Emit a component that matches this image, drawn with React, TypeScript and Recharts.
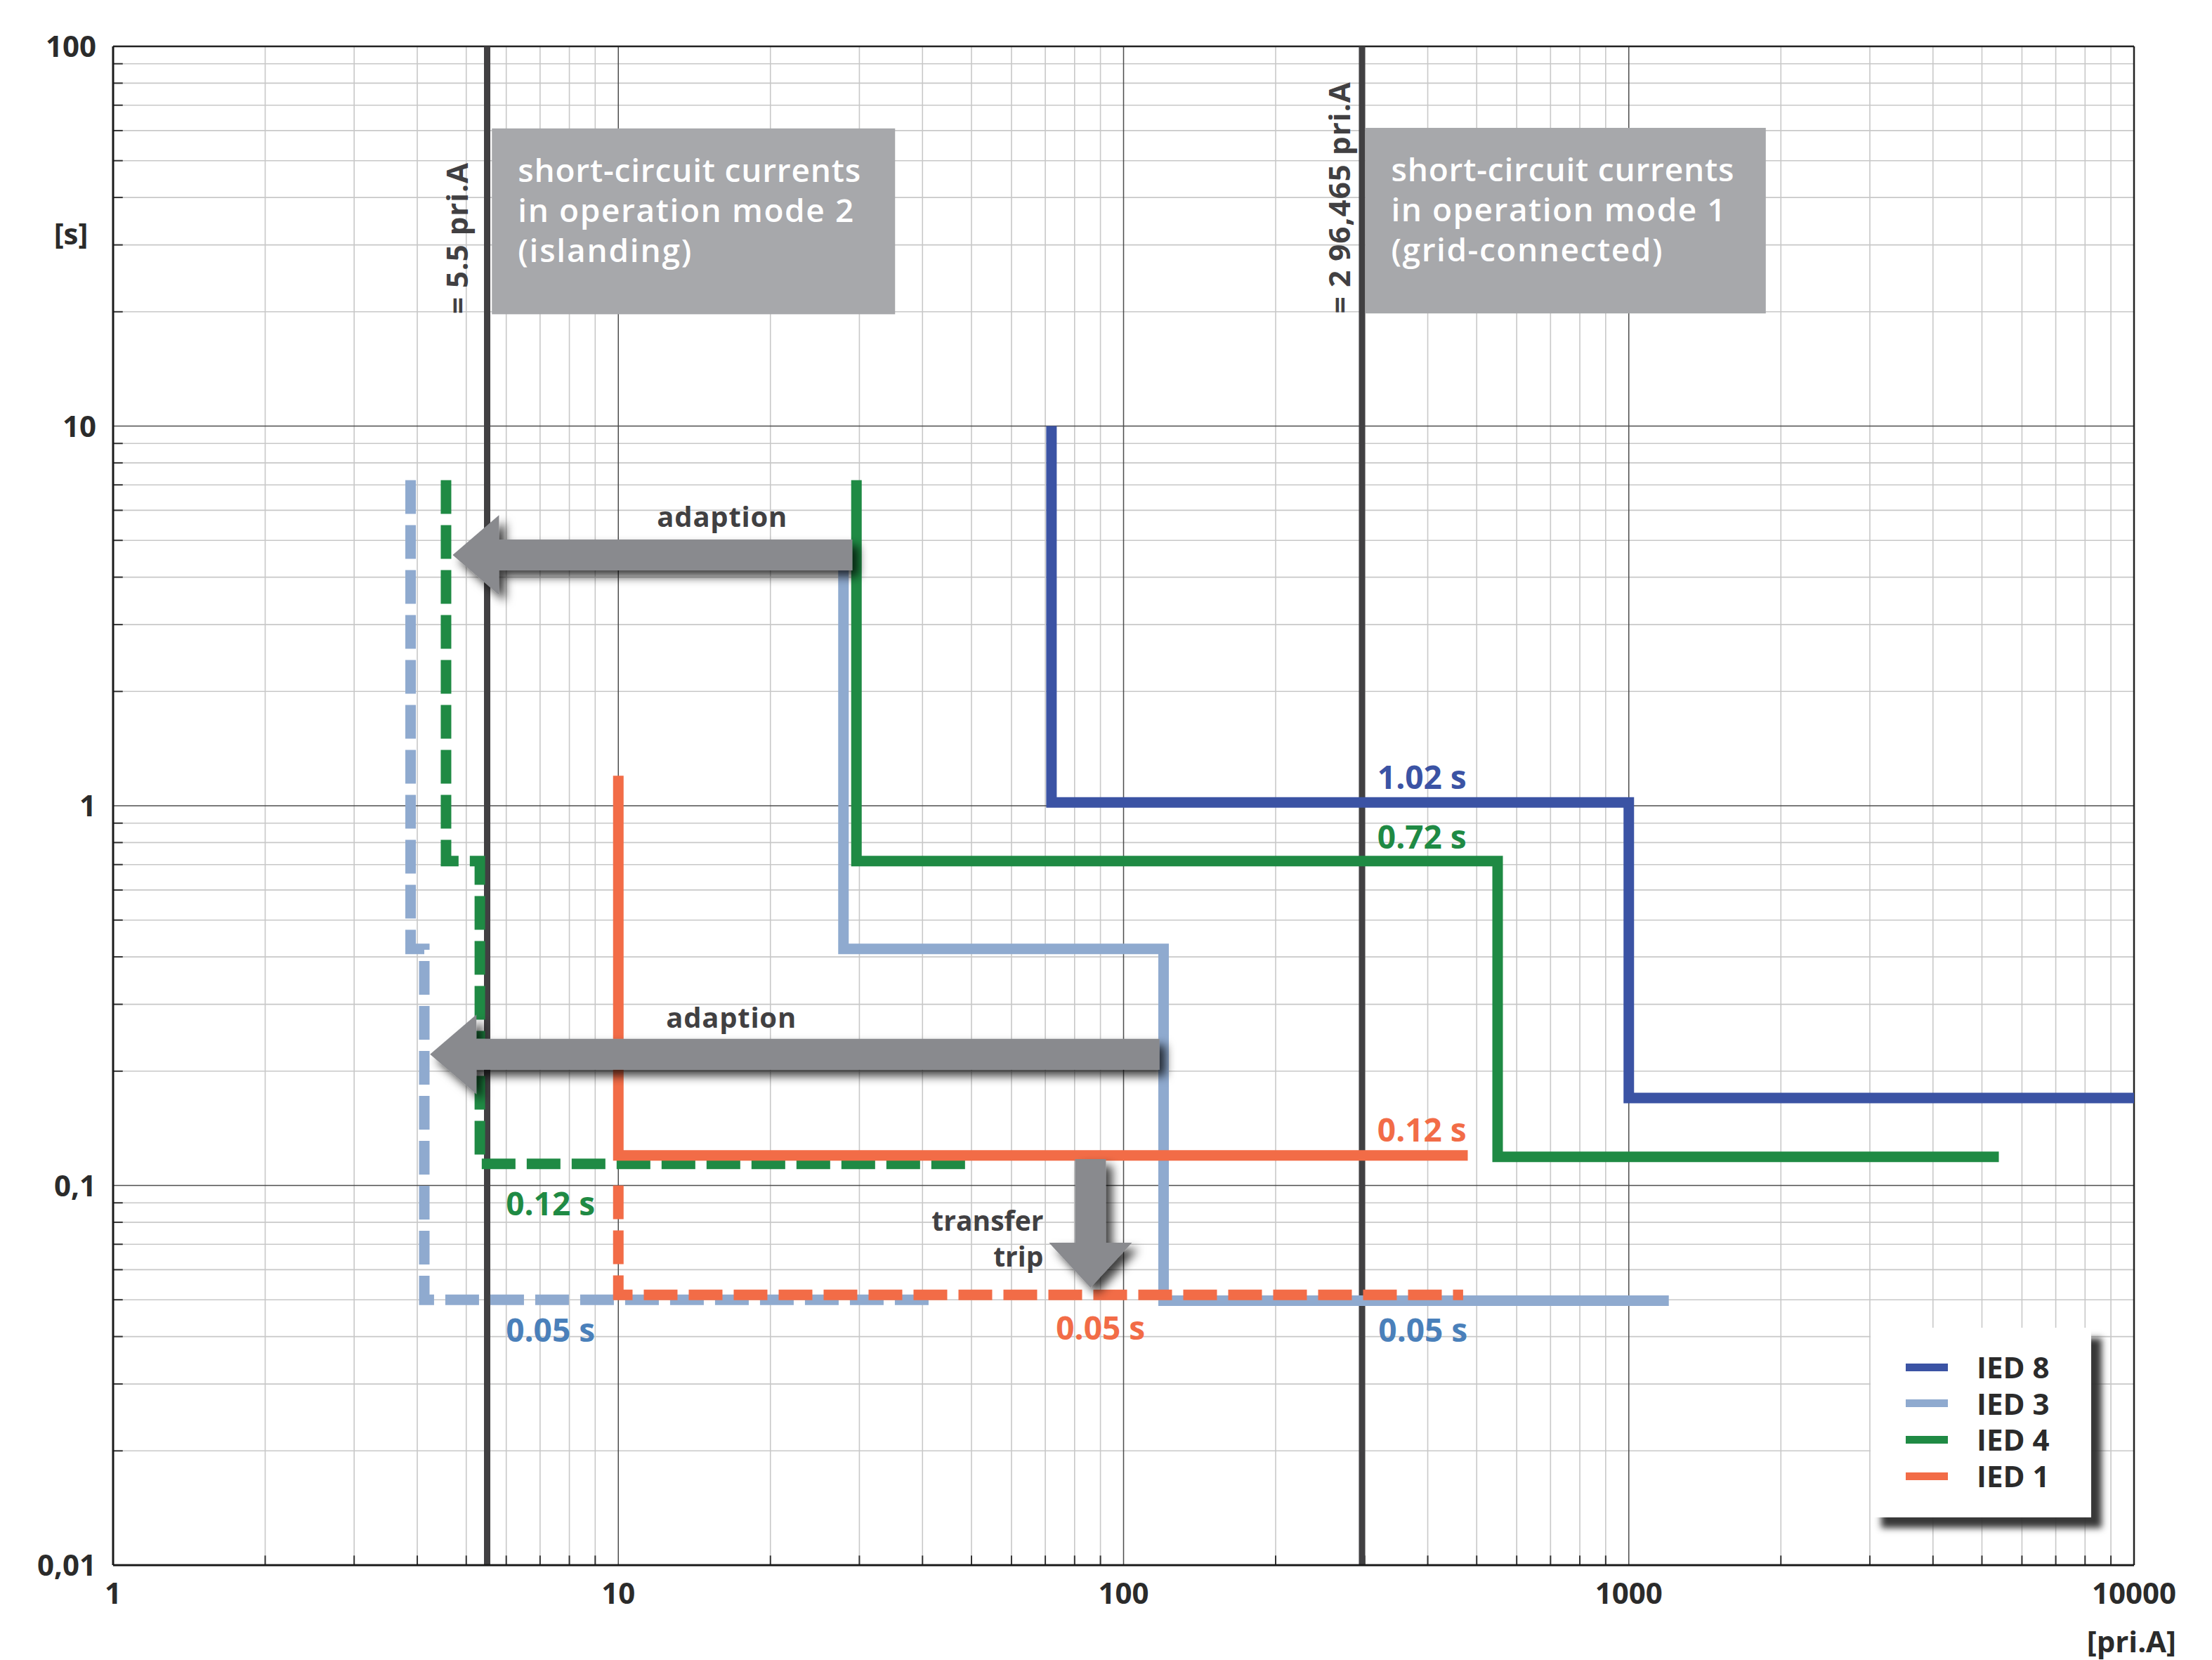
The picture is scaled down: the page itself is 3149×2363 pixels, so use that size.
import React from 'react';
import { ComposedChart, Line, XAxis, YAxis, CartesianGrid, ReferenceLine, ReferenceArea, ReferenceDot } from 'recharts';

const W = 3149;
const H = 2363;
const FONT = '"Open Sans", "Noto Sans", sans-serif';
const DARK = '#414042';

// trip characteristics, current [pri.A] vs time [s]
const ied8 = [{ x: 72, y: 10 }, { x: 72, y: 1.02 }, { x: 1000, y: 1.02 }, { x: 1000, y: 0.17 }, { x: 10000, y: 0.17 }];
const ied3 = [{ x: 27.9, y: 4.3 }, { x: 27.9, y: 0.42 }, { x: 120, y: 0.42 }, { x: 120, y: 0.0497 }, { x: 1200, y: 0.0497 }];
const ied3Adapted = [{ x: 3.88, y: 7.2 }, { x: 3.88, y: 0.42 }, { x: 4.13, y: 0.42 }, { x: 4.13, y: 0.05 }, { x: 42, y: 0.05 }];
const ied4 = [{ x: 29.6, y: 7.2 }, { x: 29.6, y: 0.715 }, { x: 550, y: 0.715 }, { x: 550, y: 0.119 }, { x: 5400, y: 0.119 }];
const ied4Adapted = [{ x: 4.56, y: 7.2 }, { x: 4.56, y: 0.715 }, { x: 5.32, y: 0.715 }, { x: 5.32, y: 0.114 }, { x: 50, y: 0.114 }];
const ied1 = [{ x: 10, y: 1.2 }, { x: 10, y: 0.12 }, { x: 480, y: 0.12 }];
const ied1Transfer = [{ x: 10, y: 0.1 }, { x: 10, y: 0.0515 }, { x: 470, y: 0.0515 }];

const xTicks = [1, 10, 100, 1000, 10000];
const yTicks = [0.01, 0.1, 1, 10, 100];
const yTickLabels = ['0,01', '0,1', '1', '10', '100'];
const shortCircuit = [5.5, 296.465];
const legendNames = ['IED 8', 'IED 3', 'IED 4', 'IED 1'];
const legendColors = ['#3B53A4', '#8FAACF', '#1F8A44', '#F26C47'];

// minor log grid values 2..9 per decade
const minorOf = (decades: number[]) => decades.flatMap((d) => [2, 3, 4, 5, 6, 7, 8, 9].map((m) => +(m * d).toPrecision(3)));
const xMinor = minorOf([1, 10, 100, 1000]);
const yMinor = minorOf([0.01, 0.1, 1, 10]);

const Txt = ({ x, y, children, fill = DARK, size = 46, anchor = 'start', weight = 700, rotate = false, len }: any) => (
  <text
    x={x}
    y={y}
    fill={fill}
    fontSize={size}
    fontWeight={weight}
    fontFamily={FONT}
    textAnchor={anchor}
    textLength={len}
    lengthAdjust={len ? 'spacing' : undefined}
    transform={rotate ? `rotate(-90 ${x} ${y})` : undefined}
  >
    {children}
  </text>
);

const shadow = (id: string) => (
  <defs>
    <filter id={id} x="-30%" y="-30%" width="160%" height="160%">
      <feDropShadow dx="9" dy="9" stdDeviation="7" floodColor="#000" floodOpacity="0.75" />
    </filter>
  </defs>
);

const LeftArrow = (id: string) => (p: any) => {
  const { x, y, width, height } = p;
  const cy = y + height / 2;
  const hx = x + 66;
  const s = 22;
  const pts = [[x, cy], [hx, y], [hx, cy - s], [x + width, cy - s], [x + width, cy + s], [hx, cy + s], [hx, y + height]];
  return (
    <g>
      {shadow(id)}
      <polygon points={pts.map((q) => q.join(',')).join(' ')} fill="#898A8E" filter={`url(#${id})`} />
    </g>
  );
};

const DownArrow = (id: string) => (p: any) => {
  const { x, y, width, height } = p;
  const cx = x + width / 2;
  const hy = y + height - 64;
  const s = 22;
  const pts = [[cx - s, y], [cx + s, y], [cx + s, hy], [x + width, hy], [cx, y + height], [x, hy], [cx - s, hy]];
  return (
    <g>
      {shadow(id)}
      <polygon points={pts.map((q) => q.join(',')).join(' ')} fill="#898A8E" filter={`url(#${id})`} />
    </g>
  );
};

const ModeBox = (lines: string[], widths: number[]) => (p: any) => {
  const { x, y, width, height } = p;
  return (
    <g>
      <rect x={x} y={y} width={width} height={height} fill="#A7A8AB" />
      {lines.map((t, i) => (
        <Txt key={i} x={x + 37} y={y + 76 + i * 57} fill="#fff" size={46} weight={600} len={widths[i]}>
          {t}
        </Txt>
      ))}
    </g>
  );
};

const Label = (text: string, fill: string, opts: any = {}) => (p: any) => (
  <Txt x={p.cx} y={p.cy} fill={fill} {...opts}>
    {text}
  </Txt>
);

const YTick = (p: any) => {
  const i = yTicks.indexOf(p.payload.value);
  return (
    <Txt x={p.x} y={p.y + 15} anchor="end" size={42} fill="#2b2b2b">
      {yTickLabels[i]}
    </Txt>
  );
};

const XTick = (p: any) => (
  <Txt x={p.x} y={p.y + 15} anchor="middle" size={42} fill="#2b2b2b">
    {p.payload.value}
  </Txt>
);

const Legend = () => (
  <div style={{ position: 'absolute', left: 2663, top: 1890, width: 314, height: 270, background: '#fff', boxShadow: '15px 15px 9px rgba(45,45,45,0.95)' }}>
    {legendNames.map((n, i) => (
      <div key={n} style={{ position: 'absolute', left: 0, top: 30 + i * 51.7, height: 52, width: 314, display: 'flex', alignItems: 'center' }}>
        <div style={{ position: 'absolute', left: 50, width: 60, height: 11, background: legendColors[i] }} />
        <span style={{ position: 'absolute', left: 151, fontFamily: FONT, fontWeight: 700, fontSize: 42, color: '#2b2b2b', lineHeight: '52px' }}>{n}</span>
      </div>
    ))}
  </div>
);

const lineProps = { type: 'linear' as const, dataKey: 'y', strokeWidth: 15, dot: false, activeDot: false, isAnimationActive: false, strokeLinejoin: 'miter', strokeLinecap: 'butt' };

export default function App() {
  return (
    <div style={{ position: 'absolute', left: 0, top: 0, width: W, height: H, background: '#fff', overflow: 'hidden' }}>
      <ComposedChart width={W} height={H} margin={{ top: 66, right: 111, bottom: 35, left: 61 }}>
        {xMinor.map((v) => (
          <ReferenceLine key={'xm' + v} x={v} stroke="#c8c8c8" strokeWidth={1.6} zIndex={-90} />
        ))}
        {yMinor.map((v) => (
          <ReferenceLine key={'ym' + v} y={v} stroke="#c8c8c8" strokeWidth={1.6} zIndex={-90} />
        ))}
        <CartesianGrid stroke="#4d4d4d" strokeWidth={1.5} zIndex={-80} />
        {xMinor.map((v) => (
          <ReferenceLine key={'xt' + v} segment={[{ x: v, y: 0.01 }, { x: v, y: 0.0106 }]} stroke="#333" strokeWidth={2} zIndex={-70} />
        ))}
        {yMinor.map((v) => (
          <ReferenceLine key={'yt' + v} segment={[{ x: 1, y: v }, { x: 1.045, y: v }]} stroke="#333" strokeWidth={2} zIndex={-70} />
        ))}
        <ReferenceLine y={100} stroke="#222" strokeWidth={2.5} zIndex={-60} />
        <ReferenceLine x={10000} stroke="#222" strokeWidth={2.5} zIndex={-60} />
        <XAxis
          type="number"
          dataKey="x"
          scale="log"
          domain={[1, 10000]}
          ticks={xTicks}
          tick={<XTick />}
          tickLine={false}
          tickSize={40}
          tickMargin={0}
          height={100}
          axisLine={{ stroke: '#1a1a1a', strokeWidth: 3 }}
          allowDataOverflow
          label={{
            content: (p: any) => (
              <Txt x={p.viewBox.x + p.viewBox.width + 60} y={p.viewBox.y + 124} anchor="end" size={42} fill="#2b2b2b">
                [pri.A]
              </Txt>
            ),
          }}
        />
        <YAxis
          type="number"
          dataKey="y"
          scale="log"
          domain={[0.01, 100]}
          ticks={yTicks}
          tick={<YTick />}
          tickLine={false}
          tickSize={24}
          tickMargin={0}
          width={100}
          axisLine={{ stroke: '#1a1a1a', strokeWidth: 3 }}
          allowDataOverflow
          label={{
            content: (p: any) => (
              <Txt x={p.viewBox.x + 40} y={p.viewBox.y + 282} anchor="middle" size={42} fill="#2b2b2b">
                [s]
              </Txt>
            ),
          }}
        />

        {shortCircuit.map((v) => (
          <ReferenceLine key={'sc' + v} x={v} stroke="#414042" strokeWidth={9} zIndex={50} />
        ))}
        <ReferenceArea
          x1={5.62}
          x2={35.3}
          y1={19.7}
          y2={60.8}
          zIndex={60}
          shape={ModeBox(['short-circuit currents', 'in operation mode 2', '(islanding)'], [488, 478, 247])}
        />
        <ReferenceArea
          x1={300.8}
          x2={1867}
          y1={19.8}
          y2={61}
          zIndex={60}
          shape={ModeBox(['short-circuit currents', 'in operation mode 1', '(grid-connected)'], [488, 476, 386])}
        />
        <ReferenceDot x={5.04} y={19.73} zIndex={60} shape={Label('= 5.5 pri.A', DARK, { rotate: true, size: 42, len: 215 })} />
        <ReferenceDot x={280.4} y={19.8} zIndex={60} shape={Label('= 2 96,465 pri.A', DARK, { rotate: true, size: 42, len: 329 })} />

        <Line {...lineProps} data={ied3} stroke="#8FAACF" />
        <Line {...lineProps} data={ied3Adapted} stroke="#8FAACF" strokeDasharray="48 16" />
        <Line {...lineProps} data={ied4} stroke="#1F8A44" />
        <Line {...lineProps} data={ied4Adapted} stroke="#1F8A44" strokeDasharray="48 16" />
        <Line {...lineProps} data={ied8} stroke="#3B53A4" />
        <Line {...lineProps} data={ied1} stroke="#F26C47" />
        <Line {...lineProps} data={ied1Transfer} stroke="#F26C47" strokeDasharray="48 16" />

        <ReferenceArea x1={4.7} x2={29.05} y1={3.59} y2={5.83} zIndex={1500} shape={LeftArrow('sh1')} />
        <ReferenceArea x1={4.24} x2={117.8} y1={0.174} y2={0.282} zIndex={1500} shape={LeftArrow('sh2')} />
        <ReferenceArea x1={71.2} x2={103.9} y1={0.0538} y2={0.1173} zIndex={1500} shape={DownArrow('sh3')} />

        <ReferenceDot x={11.93} y={5.43} zIndex={2000} shape={Label('adaption', DARK, { size: 40, len: 185 })} />
        <ReferenceDot x={12.43} y={0.26} zIndex={2000} shape={Label('adaption', DARK, { size: 40, len: 185 })} />
        <ReferenceDot x={69.4} y={0.076} zIndex={2000} shape={Label('transfer', DARK, { size: 39, anchor: 'end' })} />
        <ReferenceDot x={69.4} y={0.0611} zIndex={2000} shape={Label('trip', DARK, { size: 39, anchor: 'end' })} />

        <ReferenceDot x={318} y={1.108} zIndex={2000} shape={Label('1.02 s', '#3B53A4')} />
        <ReferenceDot x={318} y={0.771} zIndex={2000} shape={Label('0.72 s', '#1F8A44')} />
        <ReferenceDot x={318} y={0.1305} zIndex={2000} shape={Label('0.12 s', '#F26C47')} />
        <ReferenceDot x={319.5} y={0.03878} zIndex={2000} shape={Label('0.05 s', '#4A80BA')} />
        <ReferenceDot x={73.5} y={0.03926} zIndex={2000} shape={Label('0.05 s', '#F26C47')} />
        <ReferenceDot x={5.99} y={0.0834} zIndex={2000} shape={Label('0.12 s', '#1F8A44')} />
        <ReferenceDot x={5.99} y={0.03878} zIndex={2000} shape={Label('0.05 s', '#4A80BA')} />
      </ComposedChart>
      <Legend />
    </div>
  );
}
